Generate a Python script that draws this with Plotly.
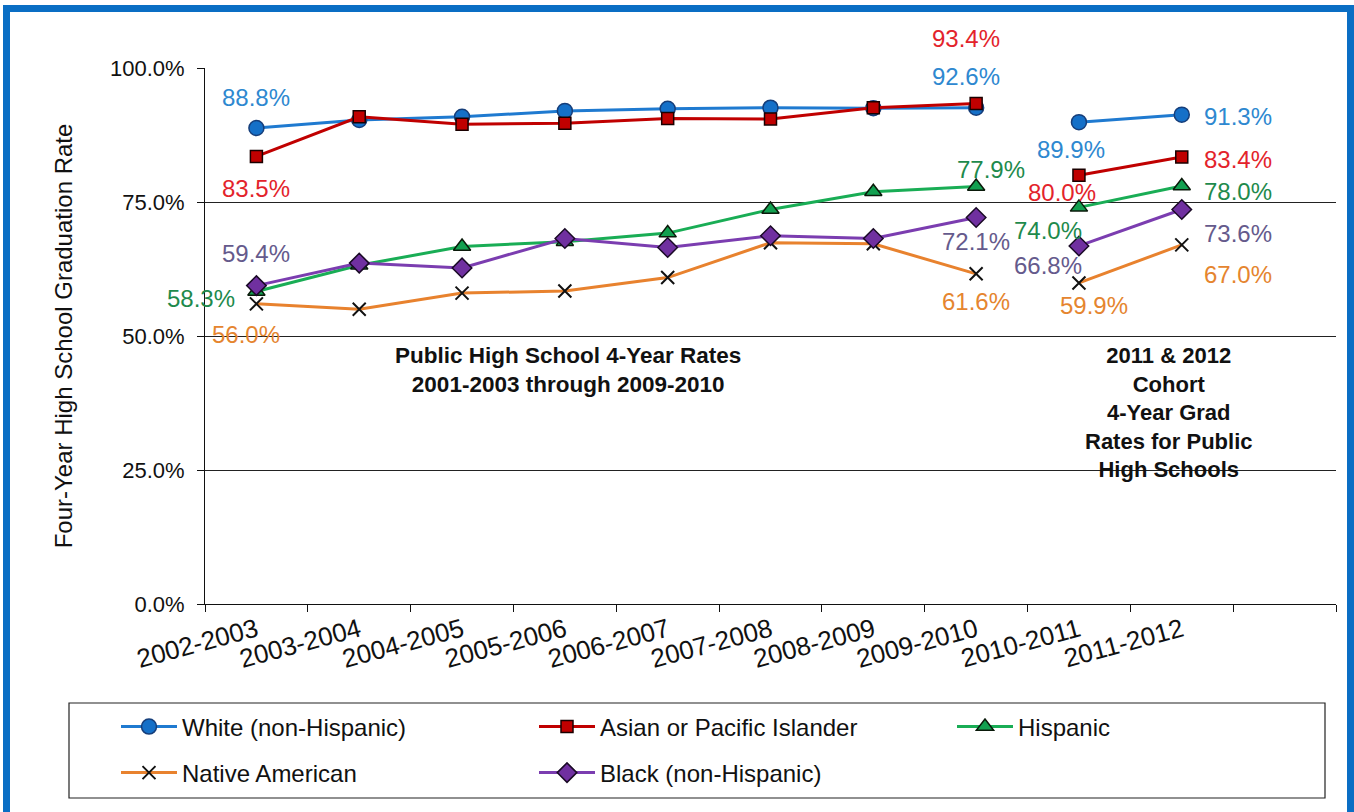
import plotly.graph_objects as go

# ---------------- data ----------------
categories = ["2002-2003", "2003-2004", "2004-2005", "2005-2006", "2006-2007",
              "2007-2008", "2008-2009", "2009-2010", "2010-2011", "2011-2012"]
axis_categories = categories + [" "]
period_cats = categories[:8]
cohort_cats = categories[8:]

white_period = [88.8, 90.3, 90.9, 92.0, 92.4, 92.6, 92.5, 92.6]
asian_period = [83.5, 90.9, 89.5, 89.7, 90.6, 90.5, 92.6, 93.4]
hispanic_period = [58.3, 63.2, 66.7, 67.6, 69.2, 73.6, 76.9, 77.9]
native_period = [56.0, 55.0, 58.0, 58.4, 60.9, 67.4, 67.2, 61.6]
black_period = [59.4, 63.6, 62.7, 68.2, 66.5, 68.7, 68.2, 72.1]

white_cohort = [89.9, 91.3]
asian_cohort = [80.0, 83.4]
hispanic_cohort = [74.0, 78.0]
native_cohort = [59.9, 67.0]
black_cohort = [66.8, 73.6]

series_names = ["White (non-Hispanic)", "Asian or Pacific Islander", "Hispanic",
                "Native American", "Black (non-Hispanic)"]
y_ticks = [0, 25, 50, 75, 100]
y_tick_labels = [f"{v:.1f}%" for v in y_ticks]

# ---------------- styles ----------------
FONT = "Arial, Liberation Sans, sans-serif"
W, H = 1354, 812
L, R, T, B = 205, 18, 68, 208
PW, PH = W - L - R, H - T - B


def px(x):
    return (x - L) / PW


def py(y):
    return (H - B - y) / PH


styles = {
    "White (non-Hispanic)": dict(line="#1F7AD0", marker=dict(symbol="circle", size=15, color="#1570C8",
                                                             line=dict(color="#163E7A", width=1.5)),
                                 label="#2E88D0", legend="legend", lw=347),
    "Asian or Pacific Islander": dict(line="#C00000", marker=dict(symbol="square", size=12, color="#C00000",
                                                                  line=dict(color="#1A0000", width=1.5)),
                                      label="#E3232B", legend="legend", lw=347),
    "Hispanic": dict(line="#19AD55", marker=dict(symbol="triangle-up", size=15, color="#12A050",
                                                 line=dict(color="#0A1A0A", width=1.5)),
                     label="#1E8A4C", legend="legend", lw=200),
    "Native American": dict(line="#E8822E", marker=dict(symbol="x-thin", size=13, color="#111111",
                                                        line=dict(color="#111111", width=2)),
                            label="#E5852F", legend="legend2", lw=347),
    "Black (non-Hispanic)": dict(line="#7B3DB0", marker=dict(symbol="diamond", size=15, color="#7030A0",
                                                             line=dict(color="#1A0A26", width=1.5)),
                                 label="#655A8C", legend="legend2", lw=300),
}

period_values = dict(zip(series_names, [white_period, asian_period, hispanic_period,
                                        native_period, black_period]))
cohort_values = dict(zip(series_names, [white_cohort, asian_cohort, hispanic_cohort,
                                        native_cohort, black_cohort]))

fig = go.Figure()
for name in series_names:
    st = styles[name]
    fig.add_trace(go.Scatter(
        x=period_cats, y=period_values[name], name=name, mode="lines+markers",
        line=dict(color=st["line"], width=3), marker=st["marker"],
        legendgroup=name, legend=st["legend"], legendwidth=st["lw"], cliponaxis=False,
    ))
    fig.add_trace(go.Scatter(
        x=cohort_cats, y=cohort_values[name], name=name, mode="lines+markers",
        line=dict(color=st["line"], width=3), marker=st["marker"],
        legendgroup=name, showlegend=False, cliponaxis=False,
    ))

# data labels: (series, category index) -> pixel offset of label centre from the point
label_offsets = {
    ("White (non-Hispanic)", 0): (0, 31),
    ("Asian or Pacific Islander", 0): (0, -32),
    ("Black (non-Hispanic)", 0): (0, 32),
    ("Hispanic", 0): (-55, -7),
    ("Native American", 0): (-10, -31),
    ("Asian or Pacific Islander", 7): (-10, 65),
    ("White (non-Hispanic)", 7): (-10, 31),
    ("Hispanic", 7): (15, 17),
    ("Black (non-Hispanic)", 7): (0, -24),
    ("Native American", 7): (0, -28),
    ("White (non-Hispanic)", 8): (-8, -27),
    ("Asian or Pacific Islander", 8): (-17, -17),
    ("Hispanic", 8): (-31, -23),
    ("Black (non-Hispanic)", 8): (-31, -20),
    ("Native American", 8): (15, -23),
    ("White (non-Hispanic)", 9): (56, -2),
    ("Asian or Pacific Islander", 9): (56, -3),
    ("Hispanic", 9): (56, -6),
    ("Black (non-Hispanic)", 9): (56, -24),
    ("Native American", 9): (56, -30),
}

annotations = []
for (name, idx), (dx, dy) in label_offsets.items():
    vals = period_values[name] + cohort_values[name]
    v = vals[idx]
    annotations.append(dict(
        x=categories[idx], y=v, xref="x", yref="y", text=f"{v:.1f}%", showarrow=False,
        xshift=dx, yshift=dy, font=dict(family=FONT, size=24, color=styles[name]["label"]),
        xanchor="center", yanchor="middle",
    ))

annotations.append(dict(
    x=px(568), y=py(370), xref="paper", yref="paper", showarrow=False,
    text="<b>Public High School 4-Year Rates<br>2001-2003 through 2009-2010</b>",
    font=dict(family=FONT, size=22.5, color="#111111"), align="center",
    xanchor="center", yanchor="middle",
))
annotations.append(dict(
    x=px(1168), y=py(412), xref="paper", yref="paper", showarrow=False,
    text="<b>2011 &amp; 2012<br>Cohort<br>4-Year Grad<br>Rates for Public<br>High Schools</b>",
    font=dict(family=FONT, size=22, color="#111111"), align="center",
    xanchor="center", yanchor="middle",
))

shapes = [
    # legend box
    dict(type="rect", xref="paper", yref="paper", x0=px(69), x1=px(1325), y0=py(798), y1=py(703),
         line=dict(color="#222222", width=1.2), fillcolor="rgba(0,0,0,0)"),
    # blue outer frame
    dict(type="rect", xref="paper", yref="paper", x0=px(6.5), x1=px(1350.5), y0=py(830), y1=py(8.5),
         line=dict(color="#0A6EC4", width=7), fillcolor="rgba(0,0,0,0)", layer="above"),
]

legend_common = dict(orientation="h", xanchor="left", yanchor="middle", itemwidth=56,
                     font=dict(family=FONT, size=24, color="#111111"), bgcolor="rgba(0,0,0,0)",
                     borderwidth=0, entrywidthmode="pixels", itemclick=False, itemdoubleclick=False)

fig.update_layout(
    width=W, height=H, autosize=False,
    margin=dict(l=L, r=R, t=T, b=B),
    paper_bgcolor="white", plot_bgcolor="white",
    font=dict(family=FONT, color="#111111"),
    legend=dict(x=px(116), y=py(727), **legend_common),
    legend2=dict(x=px(116), y=py(773), **legend_common),
    annotations=annotations,
    shapes=shapes,
    xaxis=dict(
        type="category", categoryorder="array", categoryarray=axis_categories,
        range=[-0.5, len(axis_categories) - 0.5], tickson="boundaries",
        ticks="outside", ticklen=7, tickcolor="#111111", tickwidth=1,
        showline=True, linecolor="#111111", linewidth=1, showgrid=False,
        tickangle=-15, tickfont=dict(family=FONT, size=26, color="#111111"),
    ),
    yaxis=dict(
        range=[0, 100], tickmode="array", tickvals=y_ticks, ticktext=y_tick_labels,
        ticks="outside", ticklen=7, tickcolor="#111111",
        showline=True, linecolor="#111111", linewidth=1,
        showgrid=True, gridcolor="#222222", gridwidth=1, zeroline=False,
        tickfont=dict(family=FONT, size=22, color="#111111"), ticklabelstandoff=8,
        title=dict(text="Four-Year High School Graduation Rate", standoff=30,
                   font=dict(family=FONT, size=24, color="#111111")),
    ),
)

fig.write_html("out.html", config={"displayModeBar": False},
               post_script="document.body.style.margin='0px';")
